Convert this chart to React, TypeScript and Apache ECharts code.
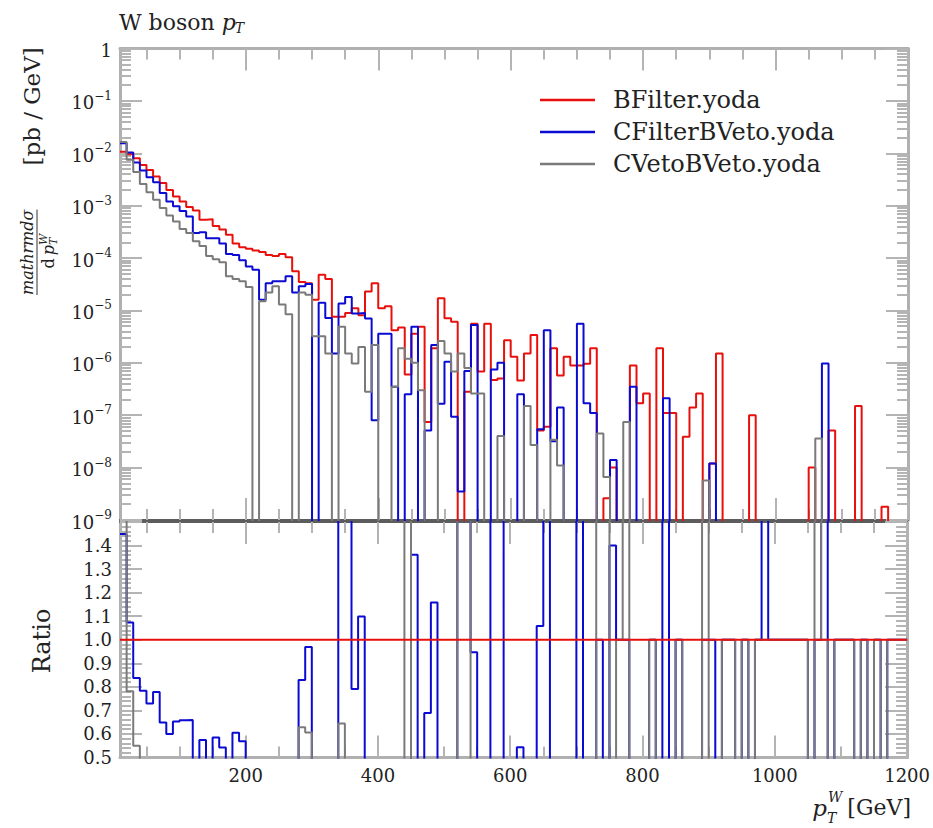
import React, { useEffect, useRef } from "react";
import * as echarts from "echarts";

// ---------------- data ----------------
// bin edges (GeV): 10 GeV bins from 10 to 1200
const binEdges: number[] = Array.from({ length: 120 }, (_, i) => 10 + 10 * i);

// dσ/dpT [pb/GeV] per bin (0 = empty bin)
const bFilter: number[] = [
  1.07e-2, 9.6e-3, 8.0e-3, 6.0e-3, 4.8e-3, 3.6e-3, 2.7e-3, 2.0e-3, 1.5e-3, 1.2e-3,
  9.4e-4, 8.1e-4, 5.4e-4, 5.5e-4, 4.1e-4, 3.5e-4, 2.8e-4, 1.9e-4, 1.6e-4, 1.5e-4,
  1.4e-4, 1.3e-4, 1.15e-4, 1.1e-4, 1.2e-4, 1.04e-4, 5.6e-5, 3.5e-5, 3.3e-5, 1.6e-5,
  4.8e-5, 4.0e-5, 7.6e-6, 7.6e-6, 8.9e-6, 1.1e-5, 8.1e-6, 2.3e-5, 3.3e-5, 1.1e-5,
  1.2e-5, 4.2e-6, 4.7e-6, 6.0e-7, 3.6e-6, 4.9e-6, 7.4e-8, 1.9e-6, 1.7e-5, 7.1e-6,
  6.1e-6, 0, 2.8e-7, 5.6e-6, 6.8e-7, 5.6e-6, 4.7e-7, 5.0e-7, 2.7e-6, 1.3e-6,
  4.6e-7, 1.5e-6, 3.4e-6, 5.1e-8, 6.0e-8, 1.9e-6, 5.7e-7, 1.3e-6, 8.9e-7, 8.9e-7,
  9.6e-7, 1.9e-6, 0, 2.6e-9, 1.0e-8, 0, 0, 8.9e-7, 1.7e-7, 2.6e-7,
  0, 1.9e-6, 1.1e-7, 1.1e-7, 0, 3.9e-8, 1.4e-7, 2.6e-7, 0, 1.2e-8,
  1.5e-6, 0, 0, 5e-10, 0, 1.0e-7, 0, 0, 0, 0,
  0, 0, 0, 0, 1.0e-8, 0, 0, 5.1e-8, 0, 0,
  0, 1.5e-7, 0, 5e-10, 0, 1.8e-9, 0, 0, 0,
];

const cFilterBVeto: number[] = [
  1.55e-2, 1.03e-2, 6.7e-3, 4.7e-3, 3.5e-3, 2.8e-3, 1.75e-3, 1.2e-3, 9.8e-4, 7.9e-4,
  6.2e-4, 3.0e-4, 3.1e-4, 2.4e-4, 2.4e-4, 1.9e-4, 1.2e-4, 1.15e-4, 9.1e-5, 6.9e-5,
  6.0e-5, 1.6e-5, 3.3e-5, 3.6e-5, 3.6e-5, 4.5e-5, 2.2e-5, 2.9e-5, 3.2e-5, 0,
  1.4e-5, 7.2e-6, 1.5e-6, 1.35e-5, 1.8e-5, 8.7e-6, 8.9e-6, 7.0e-6, 8.0e-8, 3.6e-6,
  3.6e-6, 3.5e-7, 0, 2.5e-7, 4.9e-6, 0, 5.1e-8, 2.2e-6, 1.65e-7, 1.05e-6,
  9.3e-8, 3.5e-9, 7.0e-7, 5.3e-6, 0, 0, 7.5e-7, 1.0e-6, 0, 0,
  2.5e-7, 0, 0, 5.4e-8, 4.2e-6, 3.2e-8, 1.4e-7, 0, 0, 5.6e-6,
  1.7e-7, 1.1e-7, 0, 0, 1.4e-8, 0, 0, 3.5e-7, 0, 0,
  0, 0, 2.1e-7, 0, 0, 0, 0, 0, 0, 1.2e-8,
  0, 0, 0, 0, 0, 0, 0, 5e-10, 0, 0,
  0, 0, 0, 0, 0, 0, 9.7e-7, 0, 0, 0,
  0, 0, 0, 0, 0, 0, 0, 0, 0,
];

const cVetoBVeto: number[] = [
  1.65e-2, 7.5e-3, 4.4e-3, 2.6e-3, 1.8e-3, 1.3e-3, 9.0e-4, 6.5e-4, 5.0e-4, 3.6e-4,
  3.0e-4, 2.1e-4, 1.7e-4, 1.1e-4, 9.5e-5, 8.3e-5, 4.5e-5, 4.0e-5, 3.6e-5, 2.8e-5,
  0, 1.5e-5, 2.2e-5, 2.9e-5, 1.3e-5, 8.5e-6, 0, 2.2e-5, 2.0e-5, 3.2e-6,
  3.2e-6, 1.5e-6, 0, 4.9e-6, 1.5e-6, 9.7e-7, 2.0e-6, 2.8e-7, 2.2e-6, 0,
  0, 3.5e-7, 1.9e-6, 1.2e-6, 1.0e-6, 3.0e-7, 0, 0, 2.6e-6, 1.5e-6,
  6.8e-7, 1.5e-6, 8.0e-7, 2.6e-7, 2.6e-7, 0, 0, 4.0e-8, 0, 0,
  0, 1.5e-7, 2.7e-8, 0, 0, 3.4e-8, 1.1e-8, 0, 0, 0,
  0, 0, 4.5e-8, 6.6e-9, 0, 0, 7.4e-8, 0, 0, 0,
  0, 0, 0, 0, 0, 0, 0, 0, 5.7e-9, 0,
  0, 0, 0, 0, 0, 0, 0, 0, 0, 0,
  0, 0, 0, 0, 0, 3.6e-8, 0, 0, 0, 0,
  0, 0, 0, 0, 0, 0, 0, 0, 0,
];

const seriesNames = ["BFilter.yoda", "CFilterBVeto.yoda", "CVetoBVeto.yoda"];
const xMajorTicks = [200, 400, 600, 800, 1000, 1200];
const xMinorTicks = [50, 100, 150, 250, 300, 350, 450, 500, 550, 650, 700, 750, 850, 900, 950, 1050, 1100, 1150];
const logDecades = [-9, -8, -7, -6, -5, -4, -3, -2, -1, 0];
const ratioMajorTicks = [0.5, 0.6, 0.7, 0.8, 0.9, 1.0, 1.1, 1.2, 1.3, 1.4, 1.5];
const ratioLabels = [0.5, 0.6, 0.7, 0.8, 0.9, 1.0, 1.1, 1.2, 1.3, 1.4];

// ---------------- styles ----------------
const RED = "#e8100c";
const BLUE = "#0a0ad2";
const GRAY = "#7a7a7a";
const FRAME = "#b0b0b0";
const SEP = "#5c5c5c";
const TICK = "#b4b4b4";
const TXT = "#222";
const FONT = '"DejaVu Serif", serif';

const L = 120, R = 908;
const T0 = 48.5, B0 = 520;
const T1 = 522, B1 = 757.5;
const MAJ = 22, MIN = 11;

function logMinorTicks(): number[] {
  const out: number[] = [];
  for (let n = -9; n < 0; n++) for (let k = 2; k <= 9; k++) out.push(n + Math.log10(k));
  return out;
}
function ratioMinorTicks(): number[] {
  const out: number[] = [];
  for (let k = 26; k <= 74; k++) if (k % 5 !== 0) out.push(k / 50);
  return out;
}

const toLog = (v: number) => (v > 0 ? Math.log10(v) : -30);
const ratioOf = (s: number, r: number) => (r > 0 ? s / r : s > 0 ? 50 : 1);

function stepData(vals: number[]): number[][] {
  const pts = vals.map((v, i) => [binEdges[i], v]);
  pts.push([binEdges[vals.length], vals[vals.length - 1]]);
  return pts;
}

function measure(text: string, font: string): number {
  const c = document.createElement("canvas").getContext("2d")!;
  c.font = font;
  return c.measureText(text).width;
}

function xAx(grid: number, pos: string, ticks: number[], len: number, line: any, label: boolean) {
  return {
    type: "value",
    gridIndex: grid,
    position: pos,
    min: 10,
    max: 1200,
    axisLine: line
      ? { show: true, onZero: false, lineStyle: { color: line.c, width: line.w } }
      : { show: false, onZero: false },
    axisTick: { show: true, inside: true, length: len, customValues: ticks, lineStyle: { color: TICK, width: 2 } },
    axisLabel: label
      ? {
          show: true,
          customValues: xMajorTicks,
          fontFamily: FONT,
          fontSize: 18,
          color: TXT,
          margin: 9,
          formatter: (v: number) => String(Math.round(v)),
        }
      : { show: false },
    splitLine: { show: false },
  };
}

function yAx(grid: number, pos: string, min: number, max: number, ticks: number[], len: number, line: any, label: any) {
  return {
    type: "value",
    gridIndex: grid,
    position: pos,
    min,
    max,
    axisLine: line
      ? { show: true, onZero: false, lineStyle: { color: line.c, width: line.w } }
      : { show: false, onZero: false },
    axisTick: { show: true, inside: true, length: len, customValues: ticks, lineStyle: { color: TICK, width: 2 } },
    axisLabel: label || { show: false },
    splitLine: { show: false },
  };
}

function buildOption() {
  const logLabel = {
    show: true,
    customValues: logDecades,
    margin: 8,
    formatter: (v: number) => (Math.round(v) === 0 ? "{b|1}" : `{b|10}{s|\u2212${Math.round(-v)}}`),
    rich: {
      b: { fontFamily: FONT, fontSize: 18, color: TXT, lineHeight: 22, verticalAlign: "bottom" },
      s: { fontFamily: FONT, fontSize: 12, color: TXT, lineHeight: 10, verticalAlign: "top" },
    },
  };
  const ratioLabel = {
    show: true,
    customValues: ratioLabels,
    margin: 8,
    fontFamily: FONT,
    fontSize: 18,
    color: TXT,
    formatter: (v: number) => v.toFixed(1),
  };
  const frame = { c: FRAME, w: 3 };
  const sep = { c: SEP, w: 2 };

  const xAxis = [
    xAx(0, "bottom", xMajorTicks, MAJ, sep, false),
    xAx(0, "bottom", xMinorTicks, MIN, null, false),
    xAx(0, "top", xMajorTicks, MAJ, frame, false),
    xAx(0, "top", xMinorTicks, MIN, null, false),
    xAx(1, "bottom", xMajorTicks, MAJ, frame, true),
    xAx(1, "bottom", xMinorTicks, MIN, null, false),
    xAx(1, "top", xMajorTicks, MAJ, sep, false),
    xAx(1, "top", xMinorTicks, MIN, null, false),
  ];
  const lm = logMinorTicks();
  const rm = ratioMinorTicks();
  const yAxis = [
    yAx(0, "left", -9, 0, logDecades, MAJ, frame, logLabel),
    yAx(0, "left", -9, 0, lm, MIN, null, null),
    yAx(0, "right", -9, 0, logDecades, MAJ, frame, null),
    yAx(0, "right", -9, 0, lm, MIN, null, null),
    yAx(1, "left", 0.5, 1.5, ratioMajorTicks, MAJ, frame, ratioLabel),
    yAx(1, "left", 0.5, 1.5, rm, MIN, null, null),
    yAx(1, "right", 0.5, 1.5, ratioMajorTicks, MAJ, frame, null),
    yAx(1, "right", 0.5, 1.5, rm, MIN, null, null),
  ];

  const mk = (name: string, vals: number[], color: string, xi: number, yi: number, z: number) => ({
    type: "line",
    name,
    xAxisIndex: xi,
    yAxisIndex: yi,
    data: stepData(vals),
    step: "end",
    symbol: "none",
    clip: true,
    silent: true,
    z,
    lineStyle: { color, width: 2 },
    itemStyle: { color },
  });

  const tops = [bFilter, cFilterBVeto, cVetoBVeto];
  const colors = [RED, BLUE, GRAY];
  const series: any[] = [];
  tops.forEach((vals, k) => series.push(mk(seriesNames[k], vals.map(toLog), colors[k], 0, 0, 2)));
  // ratio panel (relative to BFilter), reference drawn on top
  series.push(mk(seriesNames[1] + " ratio", cFilterBVeto.map((s, i) => ratioOf(s, bFilter[i])), BLUE, 4, 4, 2));
  series.push(mk(seriesNames[2] + " ratio", cVetoBVeto.map((s, i) => ratioOf(s, bFilter[i])), GRAY, 4, 4, 2));
  series.push(mk(seriesNames[0] + " ratio", bFilter.map((r) => ratioOf(r, r)), RED, 4, 4, 3));

  // ---- graphic texts ----
  const fTitle = `22px ${FONT}`;
  const fTitleI = `italic 22px ${FONT}`;
  const wWb = measure("W boson ", fTitle);
  const wp = measure("p", fTitleI);

  const fX = `22px ${FONT}`;
  const fXi = `italic 23px ${FONT}`;
  const fXs = `italic 14px ${FONT}`;
  const xRight = 911;
  const wGeV = measure("[GeV]", fX);
  const wpx = measure("p", fXi);
  const wW = measure("W", fXs);
  const xG = xRight - wGeV;
  const xp = xG - 6 - wW - wpx;

  const legendRows = [100, 132, 164];
  const legend: any[] = [];
  seriesNames.forEach((n, k) => {
    legend.push({
      type: "line",
      shape: { x1: 540, y1: legendRows[k], x2: 595, y2: legendRows[k] },
      style: { stroke: colors[k], lineWidth: 2.5 },
    });
    legend.push({
      type: "text",
      x: 613,
      y: legendRows[k],
      style: { text: n, font: `24px ${FONT}`, fill: TXT, textAlign: "left", textVerticalAlign: "middle", align: "left", verticalAlign: "middle" },
    });
  });

  const t = (x: number, y: number, text: string, font: string, align = "left") => ({
    type: "text",
    x,
    y,
    style: { text, font, fill: TXT, textAlign: align, textVerticalAlign: "middle", align, verticalAlign: "middle" },
  });

  const fNum = `italic 16px ${FONT}`;
  const fDen = `16px ${FONT}`;
  const fDenI = `italic 16px ${FONT}`;
  const fSm = `italic 11px ${FONT}`;
  const wNum = measure("mathrmd\u03c3", fNum);
  const wd = measure("d", fDen);
  const wpd = measure("p", fDenI);
  const denW = wd + 3 + wpd + 9;
  const denStart = wNum / 2 - denW / 2;

  const ylabel = {
    type: "group",
    x: 37,
    y: 295,
    rotation: Math.PI / 2,
    children: [
      t(wNum / 2, -10, "mathrmd\u03c3", fNum, "center"),
      { type: "line", shape: { x1: 0, y1: 0, x2: wNum, y2: 0 }, style: { stroke: "#333", lineWidth: 1 } },
      t(denStart, 11, "d", fDen),
      t(denStart + wd + 3, 11, "p", fDenI),
      t(denStart + wd + 3 + wpd, 6, "W", fSm),
      t(denStart + wd + 3 + wpd, 16, "T", fSm),
      t(wNum + 44, -5, "[pb / GeV]", `23px ${FONT}`),
    ],
  };

  const graphic = [
    t(119, 22, "W boson ", fTitle),
    t(119 + wWb, 22, "p", fTitleI),
    t(119 + wWb + wp - 1, 28, "T", `italic 14px ${FONT}`),
    ...legend,
    ylabel,
    {
      type: "text",
      x: 42,
      y: 641,
      rotation: Math.PI / 2,
      style: { text: "Ratio", font: `24px ${FONT}`, fill: TXT, textAlign: "center", textVerticalAlign: "middle", align: "center", verticalAlign: "middle" },
    },
    t(xp, 808, "p", fXi),
    t(xp + wpx + 1, 797, "W", fXs),
    t(xp + wpx, 818, "T", fXs),
    t(xG, 807, "[GeV]", fX),
  ];

  return {
    animation: false,
    backgroundColor: "#ffffff",
    grid: [
      { left: L, top: T0, width: R - L, height: B0 - T0, containLabel: false },
      { left: L, top: T1, width: R - L, height: B1 - T1, containLabel: false },
    ],
    xAxis,
    yAxis,
    series,
    graphic,
  };
}

export default function App() {
  const ref = useRef<HTMLDivElement>(null);
  useEffect(() => {
    const chart = echarts.init(ref.current!, null, { renderer: "svg" });
    chart.setOption(buildOption() as any);
    return () => chart.dispose();
  }, []);
  return (
    <div
      ref={ref}
      style={{ position: "fixed", left: 0, top: 0, width: 933, height: 828, background: "#fff" }}
    />
  );
}
